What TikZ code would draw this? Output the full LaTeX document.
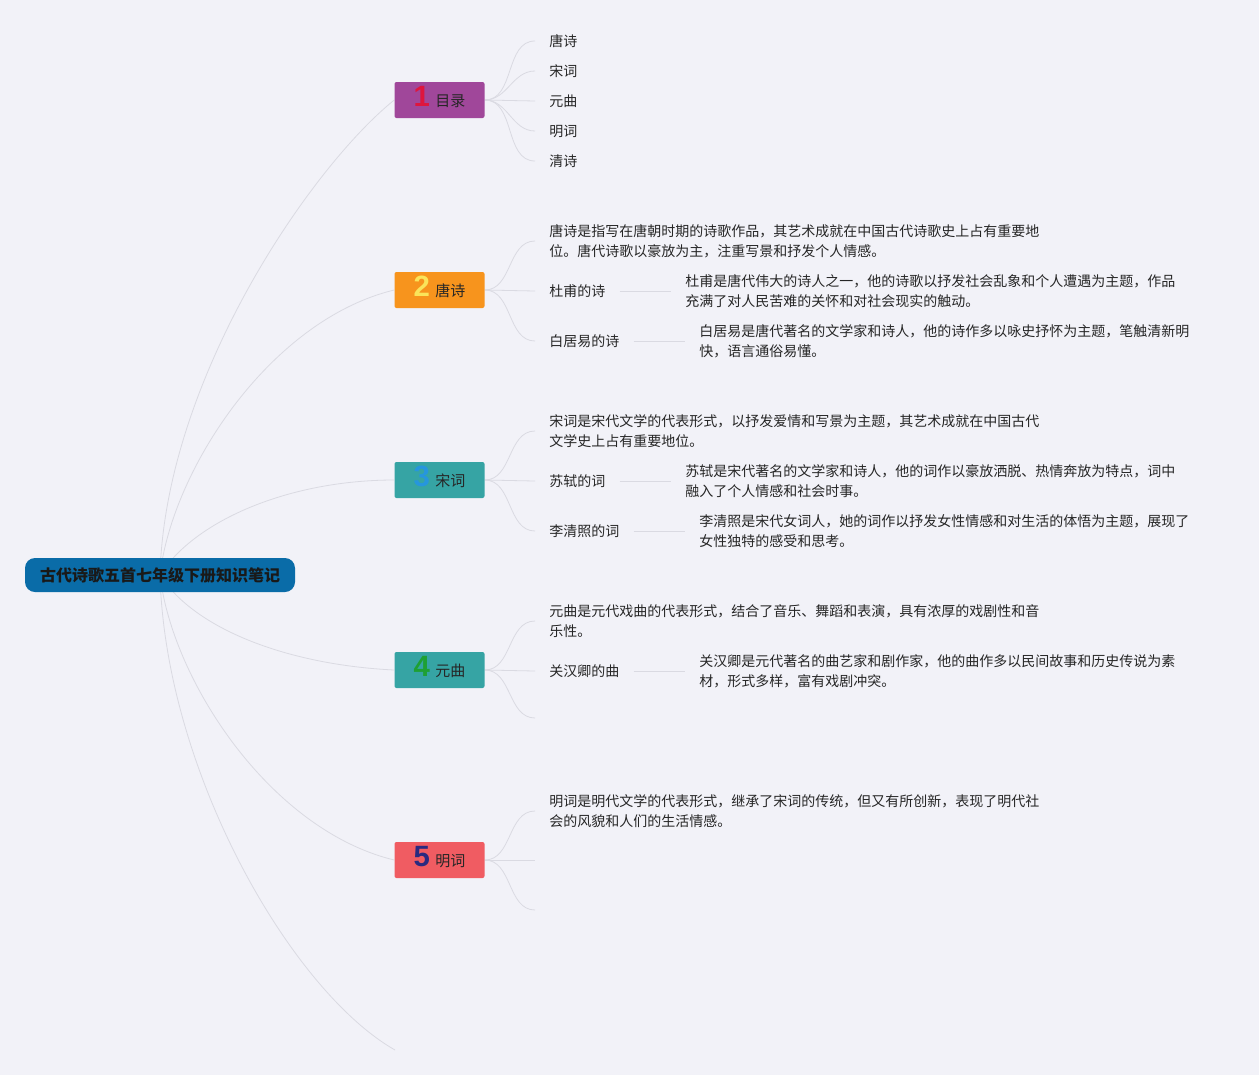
\documentclass[tikz,border=0pt]{standalone}
\usepackage{fontspec}
\setmainfont{Noto Sans CJK SC}
\newfontfamily\numfont{Liberation Sans}
\usetikzlibrary{backgrounds}
\definecolor{mapbg}{RGB}{242,242,248}
\definecolor{maplink}{RGB}{218,218,226}
\definecolor{rootblue}{RGB}{10,108,168}
\definecolor{topicpurple}{RGB}{160,71,154}
\definecolor{topicorange}{RGB}{247,148,29}
\definecolor{topicteal}{RGB}{54,164,164}
\definecolor{topiccoral}{RGB}{240,92,98}
\definecolor{numred}{RGB}{222,22,62}
\definecolor{numyellow}{RGB}{250,228,90}
\definecolor{numblue}{RGB}{38,150,222}
\definecolor{numgreen}{RGB}{30,160,52}
\definecolor{numnavy}{RGB}{42,42,128}
\newcommand{\topicnum}[2]{\rule[-5pt]{0pt}{0pt}{\numfont\bfseries\fontsize{22}{22}\selectfont\color{#1}#2}\hspace{4pt}}

\begin{document}
\begin{tikzpicture}[x=0.75pt, y=0.75pt,
    root/.style={rectangle, rounded corners=7.5pt, fill=rootblue, minimum width=202.5pt,
                 minimum height=25.5pt, text=black!90, font=\fontsize{12}{15}\selectfont\bfseries},
    topic/.style={rectangle, rounded corners=1.5pt, minimum width=67.5pt, minimum height=27pt,
                  inner sep=0pt, text=black!85, font=\fontsize{11.25}{14}\selectfont},
    leaf/.style={anchor=west, inner xsep=10.5pt, inner ysep=2pt, align=left,
                 text=black!85, font=\fontsize{10.5}{15}\selectfont},
    link/.style={draw=maplink, line width=0.6pt}
  ]
    \useasboundingbox (0,0) rectangle (1259,-1075);
    \node[root] (root) at (160,-575) {古代诗歌五首七年级下册知识笔记};

    \node[topic, fill=topicpurple] (t1) at (439.5,-100) {\topicnum{numred}{1}目录};
    \node[topic, fill=topicorange] (t2) at (439.5,-290) {\topicnum{numyellow}{2}唐诗};
    \node[topic, fill=topicteal]   (t3) at (439.5,-480) {\topicnum{numblue}{3}宋词};
    \node[topic, fill=topicteal]   (t4) at (439.5,-670) {\topicnum{numgreen}{4}元曲};
    \node[topic, fill=topiccoral]  (t5) at (439.5,-860) {\topicnum{numnavy}{5}明词};
    \coordinate (t6) at (395,-1050);

    \node[leaf] (c11) at (535,-41)  {唐诗};
    \node[leaf] (c12) at (535,-71)  {宋词};
    \node[leaf] (c13) at (535,-101) {元曲};
    \node[leaf] (c14) at (535,-131) {明词};
    \node[leaf] (c15) at (535,-161) {清诗};

    \node[leaf] (c21) at (535,-241) {唐诗是指写在唐朝时期的诗歌作品，其艺术成就在中国古代诗歌史上占有重要地\\位。唐代诗歌以豪放为主，注重写景和抒发个人情感。};
    \node[leaf] (c22) at (535,-291) {杜甫的诗};
    \node[leaf] (c23) at (535,-341) {白居易的诗};
    \node[leaf] (g22) at (671,-291) {杜甫是唐代伟大的诗人之一，他的诗歌以抒发社会乱象和个人遭遇为主题，作品\\充满了对人民苦难的关怀和对社会现实的触动。};
    \node[leaf] (g23) at (685,-341) {白居易是唐代著名的文学家和诗人，他的诗作多以咏史抒怀为主题，笔触清新明\\快，语言通俗易懂。};

    \node[leaf] (c31) at (535,-431) {宋词是宋代文学的代表形式，以抒发爱情和写景为主题，其艺术成就在中国古代\\文学史上占有重要地位。};
    \node[leaf] (c32) at (535,-481) {苏轼的词};
    \node[leaf] (c33) at (535,-531) {李清照的词};
    \node[leaf] (g32) at (671,-481) {苏轼是宋代著名的文学家和诗人，他的词作以豪放洒脱、热情奔放为特点，词中\\融入了个人情感和社会时事。};
    \node[leaf] (g33) at (685,-531) {李清照是宋代女词人，她的词作以抒发女性情感和对生活的体悟为主题，展现了\\女性独特的感受和思考。};

    \node[leaf] (c41) at (535,-621) {元曲是元代戏曲的代表形式，结合了音乐、舞蹈和表演，具有浓厚的戏剧性和音\\乐性。};
    \node[leaf] (c42) at (535,-671) {关汉卿的曲};
    \coordinate (c43) at (535,-718);
    \node[leaf] (g42) at (685,-671) {关汉卿是元代著名的曲艺家和剧作家，他的曲作多以民间故事和历史传说为素\\材，形式多样，富有戏剧冲突。};

    \node[leaf] (c51) at (535,-811) {明词是明代文学的代表形式，继承了宋词的传统，但又有所创新，表现了明代社\\会的风貌和人们的生活情感。};
    \coordinate (c52) at (535,-860);
    \coordinate (c53) at (535,-910);

    \begin{scope}[on background layer]
      \fill[mapbg] (0,0) rectangle (1259,-1075);
      \draw[link] (root.center) .. controls (165,-380) and (310,-168) .. (t1.west);
      \draw[link] (root.center) .. controls (172,-470) and (270,-320) .. (t2.west);
      \draw[link] (root.center) .. controls (195,-520) and (290,-480) .. (t3.west);
      \draw[link] (root.center) .. controls (195,-630) and (290,-665) .. (t4.west);
      \draw[link] (root.center) .. controls (172,-680) and (270,-830) .. (t5.west);
      \draw[link] (root.center) .. controls (165,-770) and (290,-990) .. (t6);

      \draw[link] (t1.east) to[out=0, in=180] (c11.west);
      \draw[link] (t1.east) to[out=0, in=180] (c12.west);
      \draw[link] (t1.east) -- (c13.west);
      \draw[link] (t1.east) to[out=0, in=180] (c14.west);
      \draw[link] (t1.east) to[out=0, in=180] (c15.west);

      \draw[link] (t2.east) to[out=0, in=180] (c21.west);
      \draw[link] (t2.east) -- (c22.west);
      \draw[link] (t2.east) to[out=0, in=180] (c23.west);
      \draw[link] (c22) -- (g22);
      \draw[link] (c23) -- (g23);

      \draw[link] (t3.east) to[out=0, in=180] (c31.west);
      \draw[link] (t3.east) -- (c32.west);
      \draw[link] (t3.east) to[out=0, in=180] (c33.west);
      \draw[link] (c32) -- (g32);
      \draw[link] (c33) -- (g33);

      \draw[link] (t4.east) to[out=0, in=180] (c41.west);
      \draw[link] (t4.east) -- (c42.west);
      \draw[link] (t4.east) to[out=0, in=180] (c43);
      \draw[link] (c42) -- (g42);

      \draw[link] (t5.east) to[out=0, in=180] (c51.west);
      \draw[link] (t5.east) -- (c52);
      \draw[link] (t5.east) to[out=0, in=180] (c53);
    \end{scope}
  \end{tikzpicture}
\end{document}
